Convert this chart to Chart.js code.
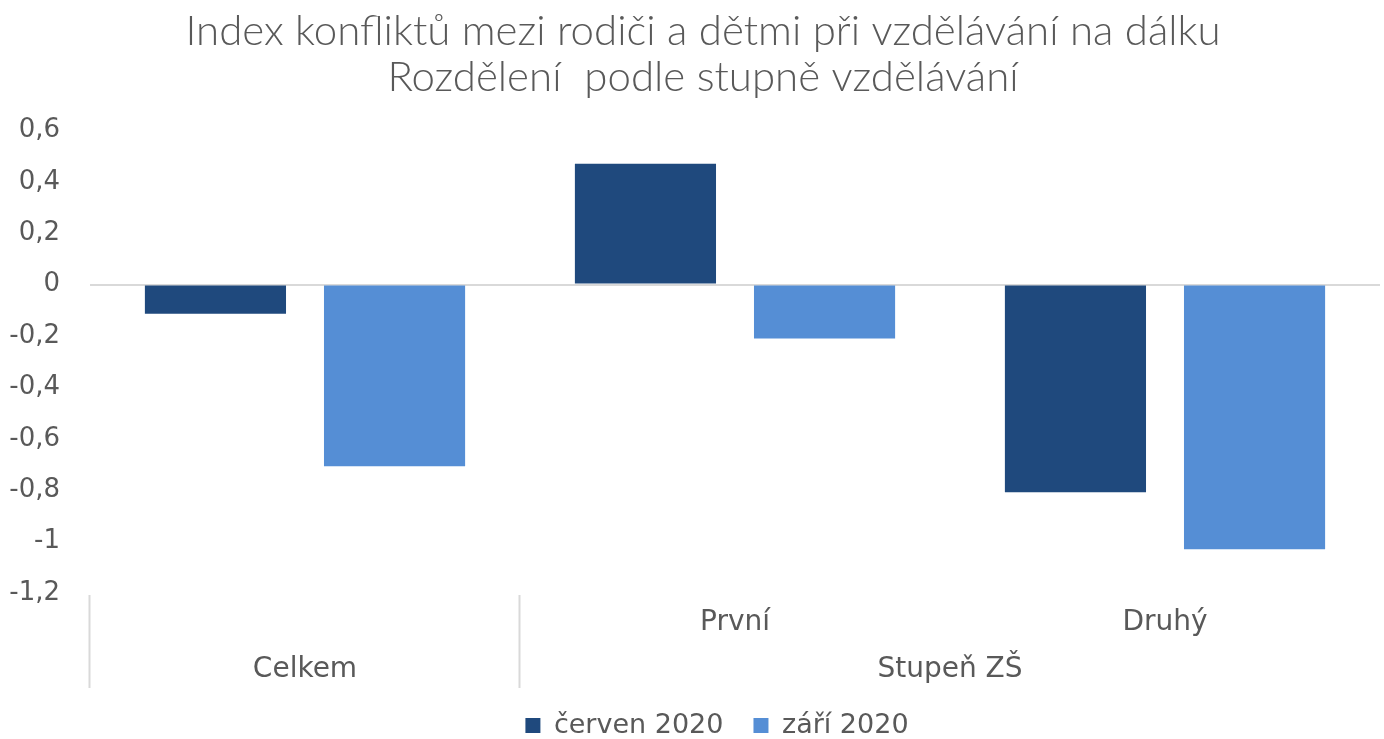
<!DOCTYPE html>
<html>
<head>
<meta charset="utf-8">
<script src="https://cdn.jsdelivr.net/npm/chart.js@4"></script>
<style>
  html, body { margin: 0; padding: 0; background: #fff; }
  #wrap { width: 1384px; height: 739px; }
</style>
</head>
<body>
<div id="wrap"><canvas id="chart"></canvas></div>
<script>
var TITLE = ['Index konfliktů mezi rodiči a dětmi při vzdělávání na dálku', 'Rozdělení  podle stupně vzdělávání'];
var CATEGORIES = ['Celkem', 'První', 'Druhý'];
var LEVEL_ONE = ['', 'První', 'Druhý'];
var GROUPS = ['Celkem', 'Stupeň ZŠ'];
var GROUP_START = [0, 1];
var GROUP_END = [0, 2];
var CERVEN = [-0.113, 0.47, -0.808];
var ZARI = [-0.707, -0.21, -1.03];
var COLORS = ['#1f497d', '#558ed5'];
var GREY = '#595959';
var FONT = 'DejaVu Sans';

var ctx = document.getElementById('chart');

// popisky osy x ve dvou úrovních (jako v Excelu)
var multiLevelAxis = {
  id: 'multiLevelAxis',
  afterLayout: function(chart) {
    // titulek a legenda jsou v originále trochu posunuté
    chart.titleBlock.left += 26;
    chart.legend.left += 54;
    chart.legend.top += 10;
    chart.legend.bottom += 10;
  },
  afterDraw: function(chart) {
    var x = chart.scales.x;
    var c = chart.ctx;
    var bottom = chart.chartArea.bottom;
    var half = (x.getPixelForValue(1) - x.getPixelForValue(0)) / 2;
    c.save();
    c.fillStyle = GREY;
    c.font = '28px ' + FONT;
    c.textAlign = 'center';
    c.textBaseline = 'middle';
    LEVEL_ONE.forEach(function(label, i) {
      if(label) c.fillText(label, x.getPixelForValue(i), bottom + 30);
    });
    c.strokeStyle = '#d9d9d9';
    c.lineWidth = 2;
    GROUPS.forEach(function(label, i) {
      var left = x.getPixelForValue(GROUP_START[i]) - half;
      var right = x.getPixelForValue(GROUP_END[i]) + half;
      c.fillText(label, (left + right) / 2, bottom + 77);
      c.beginPath();
      c.moveTo(Math.round(left) - 0.5, bottom + 2);
      c.lineTo(Math.round(left) - 0.5, bottom + 95);
      c.stroke();
    });
    c.restore();
  }
};

var chart = new Chart(ctx, {
  type: 'bar',
  data: {
    labels: CATEGORIES,
    datasets: [{
      label: 'červen 2020',
      data: CERVEN,
      backgroundColor: COLORS[0]
    }, {
      label: 'září 2020',
      data: ZARI,
      backgroundColor: COLORS[1]
    }]
  },
  options: {
    responsive: true,
    maintainAspectRatio: false,
    animation: false,
    categoryPercentage: 0.833,
    barPercentage: 0.788,
    layout: { padding: { left: 0, right: 4, top: 8, bottom: 0 } },
    plugins: {
      title: {
        display: true,
        text: TITLE,
        color: GREY,
        font: { family: 'Lato', size: 42, weight: '300', lineHeight: 1.1 },
        padding: { top: 0, bottom: 30 }
      },
      legend: {
        position: 'bottom',
        labels: {
          color: GREY,
          font: { family: FONT, size: 27 },
          boxWidth: 15,
          boxHeight: 15,
          padding: 30
        }
      },
      tooltip: { enabled: false }
    },
    scales: {
      x: {
        grid: { display: false },
        border: { display: false },
        ticks: { display: false },
        afterFit: function(scale) { scale.height = 79; }
      },
      y: {
        min: -1.2,
        max: 0.6,
        afterFit: function(scale) { scale.width = 90; },
        border: { display: false },
        grid: {
          drawTicks: false,
          lineWidth: 2,
          color: function(c) { return c.tick && Math.abs(c.tick.value) < 1e-9 ? '#d9d9d9' : 'rgba(0,0,0,0)'; }
        },
        ticks: {
          stepSize: 0.2,
          padding: 30,
          color: GREY,
          font: { family: FONT, size: 26 },
          callback: function(v) { return String(Math.round(v * 10) / 10).replace('.', ','); }
        }
      }
    }
  },
  plugins: [multiLevelAxis]
});
</script>
</body>
</html>
